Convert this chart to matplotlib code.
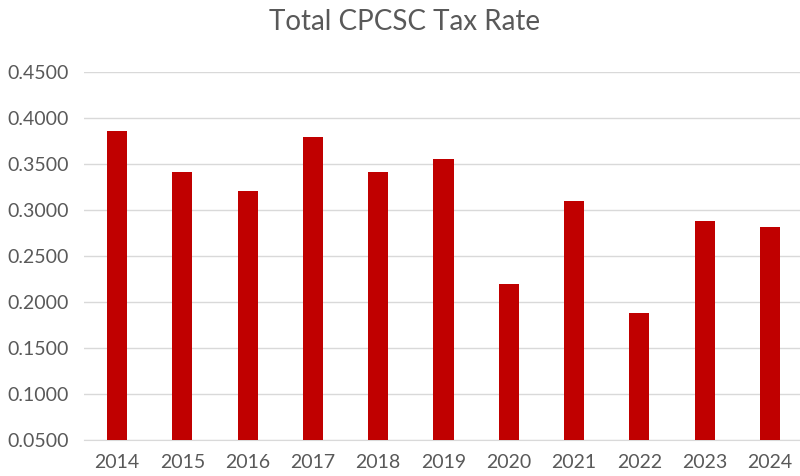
import matplotlib.pyplot as plt
import numpy as np

years = ['2014', '2015', '2016', '2017', '2018', '2019', '2020', '2021', '2022', '2023', '2024']
rates = [0.3859, 0.3413, 0.3207, 0.3793, 0.3413, 0.3554, 0.2196, 0.3098, 0.1880, 0.2880, 0.2815]

plt.rcParams['font.family'] = ['Lato', 'DejaVu Sans']

W, H = 800, 476
fig = plt.figure(figsize=(W / 100, H / 100), dpi=100)
# axes run slightly past the right edge like the original
ax = fig.add_axes([84.4 / W, 36 / H, (802.6 - 84.4) / W, (440 - 72) / H])

x = np.arange(len(years))
ax.bar(x, rates, width=0.31, color='#c00000', zorder=3)

ax.set_xlim(-0.5, len(years) - 0.5)
ax.set_ylim(0.05, 0.45)
yt = np.arange(0.05, 0.4501, 0.05)
ax.set_yticks(yt)
ax.set_yticklabels(['%.4f' % v for v in yt])
ax.set_xticks(x)
ax.set_xticklabels(years)

ax.grid(axis='y', color='#d9d9d9', linewidth=1, zorder=0)
for s in ['top', 'right', 'left']:
    ax.spines[s].set_visible(False)
ax.spines['bottom'].set_color('#d9d9d9')
ax.tick_params(axis='both', length=0, colors='#595959', labelsize=14)
ax.tick_params(axis='y', pad=11)
ax.tick_params(axis='x', pad=10)

fig.text(405 / W, 1 - 22 / H, 'Total CPCSC Tax Rate', ha='center', va='center',
         fontsize=20, color='#595959')

fig.savefig('out.png', dpi=100)
